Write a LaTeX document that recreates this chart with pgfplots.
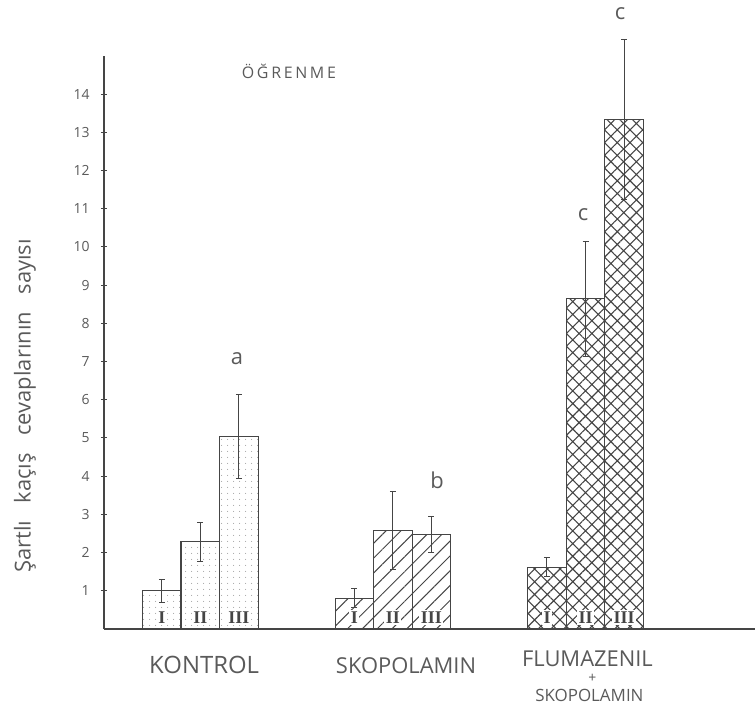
\documentclass[border=0pt]{standalone}
\usepackage{pgfplots}
\pgfplotsset{compat=1.18}
\usepackage{fontspec}
\setmainfont{Open Sans}
\newfontfamily\romanfont{Liberation Serif}
\usetikzlibrary{patterns.meta}
\definecolor{ink}{HTML}{454545}
\definecolor{txt}{HTML}{5A5A5A}
\pgfplotsset{
  mybar/.style={ybar, bar width=1, bar shift=0pt, draw=ink, line width=1.1bp,
    error bars/y dir=both, error bars/y explicit,
    error bars/error bar style={ink, line width=1bp},
    error bars/error mark options={rotate=90, mark size=3bp, ink, line width=1bp}},
}
\begin{document}
\begin{tikzpicture}
\begin{axis}[
  scale only axis, width=651bp, height=573bp,
  xmin=0, xmax=16.9, ymin=0, ymax=15,
  axis x line=bottom, axis y line=left,
  axis line style={-, ink, line width=1.3bp},
  xtick=\empty,
  ytick={1,...,14},
  tick align=center, major tick length=6bp,
  tick style={ink, line width=1bp},
  yticklabel style={txt, font=\fontsize{14}{14}\selectfont, xshift=-8bp},
  /pgf/number format/assume math mode=true,
  clip=false,
]
\addplot[mybar, pattern={Dots[distance=6bp, radius=0.6bp]}, pattern color=gray!70]
  coordinates {(1.5,1.0) +- (0,0.3) (2.5,2.28) +- (0,0.52) (3.5,5.05) +- (0,1.1)};
\addplot[mybar, pattern={Lines[angle=45, distance=10.5bp, line width=1bp]}, pattern color=ink]
  coordinates {(6.5,0.8) +- (0,0.25) (7.5,2.58) +- (0,1.02) (8.5,2.47) +- (0,0.47)};
\addplot[mybar, pattern={Hatch[angle=45, distance=9bp, line width=1.1bp]}, pattern color=ink]
  coordinates {(11.5,1.62) +- (0,0.24) (12.5,8.64) +- (0,1.5) (13.5,13.34) +- (0,2.1)};

\foreach \x/\r in {1.5/I,2.5/II,3.5/III,6.5/I,7.5/II,8.5/III,11.5/I,12.5/II,13.5/III}{
  \edef\tmp{\noexpand\node[ink, fill=white, inner sep=1.5bp, font=\noexpand\romanfont\noexpand\bfseries\noexpand\fontsize{18}{18}\noexpand\selectfont] at (axis cs:\x,0.3) {\r};}
  \tmp
}
\node[txt, font=\fontsize{22}{22}\selectfont] at (axis cs:3.45,7.07) {a};
\node[txt, font=\fontsize{22}{22}\selectfont] at (axis cs:8.65,3.9) {b};
\node[txt, font=\fontsize{22}{22}\selectfont] at (axis cs:12.44,10.85) {c};
\node[txt, font=\fontsize{22}{22}\selectfont] at (axis cs:13.4,16.1) {c};
\node[txt, font=\fontsize{16}{16}\selectfont] at (axis cs:4.8,14.6) {Ö\,Ğ\,R\,E\,N\,M\,E};
\node[txt, font=\fontsize{24}{24}\selectfont] at (axis cs:2.6,-0.95) {KONTROL};
\node[txt, font=\fontsize{22}{22}\selectfont] at (axis cs:7.84,-0.95) {SKOPOLAMIN};
\node[txt, font=\fontsize{22}{22}\selectfont] at (axis cs:12.55,-0.78) {FLUMAZENIL};
\node[txt, font=\fontsize{14}{14}\selectfont] at (axis cs:12.68,-1.3) {+};
\node[txt, font=\fontsize{17}{17}\selectfont] at (axis cs:12.6,-1.74) {SKOPOLAMIN};
\node[txt, rotate=90, font=\fontsize{22}{22}\selectfont] at (axis cs:-2.05,5.84) {Şartlı\hspace{0.8em}kaçış\hspace{0.8em}cevaplarının\hspace{0.8em}sayısı};
\end{axis}
\pgfresetboundingbox
\path[use as bounding box] ([shift={(-104bp,-80bp)}]current axis.south west) rectangle ([shift={(0bp,56bp)}]current axis.north east);
\end{tikzpicture}
\end{document}
